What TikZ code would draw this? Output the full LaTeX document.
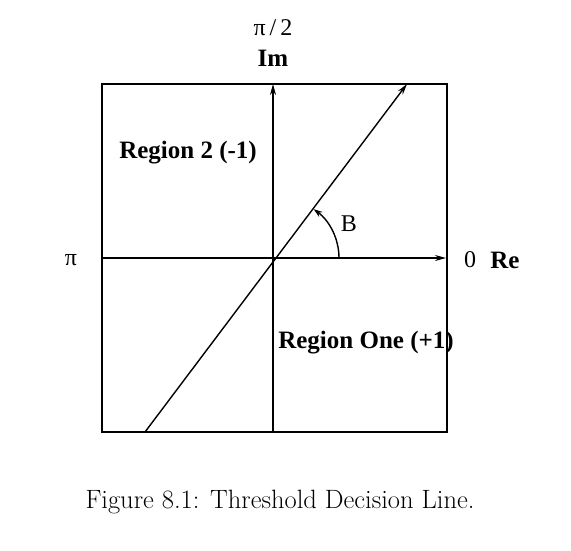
\documentclass[tikz,border=0pt]{standalone}
\usepackage{fontspec}
\newfontfamily\tms{Liberation Serif}
\usetikzlibrary{arrows.meta}
\begin{document}
\begin{tikzpicture}[x=1pt,y=-1pt,
  ln/.style={line width=1.4pt},
  arr/.style={ln,-{Stealth[length=11pt,width=6pt]}},
  lbl/.style={font=\tms\fontsize{24}{27}\selectfont,inner sep=0pt},
  blbl/.style={font=\tms\bfseries\fontsize{25}{28}\selectfont,inner sep=0pt}]
\useasboundingbox (0,0) rectangle (571,550);
\coordinate (tl) at (102,84);
\coordinate (br) at (447,432);
\coordinate (O) at (273,258);
\coordinate (top) at (273,84);
\coordinate (bot) at (273,432);
\coordinate (left) at (102,258);
\coordinate (right) at (446,258);
\coordinate (ds) at (145,432);
\coordinate (de) at (407,84);
\draw[ln] (tl) rectangle (br);
\draw[arr] (bot) -- (top);
\draw[arr] (left) -- (right);
\draw[arr] (ds) -- (de);
\draw[ln,-{Stealth[length=9pt,width=6pt]}] (O) ++(66,0) arc[start angle=0,end angle=-52,x radius=66,y radius=62];
\node[lbl] (pi2) at (273,28) {π\,/\,2};
\node[blbl] (im) at (273,58) {Im};
\node[lbl] (pi) at (71,260) {π};
\node[lbl] (zero) at (470,260) {0};
\node[blbl] (re) at (505,260) {Re};
\node[lbl] (b) at (349,224) {B};
\node[blbl] (r2) at (188,153) {Region 2 (-1)};
\node[blbl] (r1) at (366,343) {Region One (+1)};
\node[inner sep=0pt,font=\fontsize{26.5}{29}\selectfont] (cap) at (280,502) {Figure 8.1: Threshold Decision Line.};
\end{tikzpicture}
\end{document}
